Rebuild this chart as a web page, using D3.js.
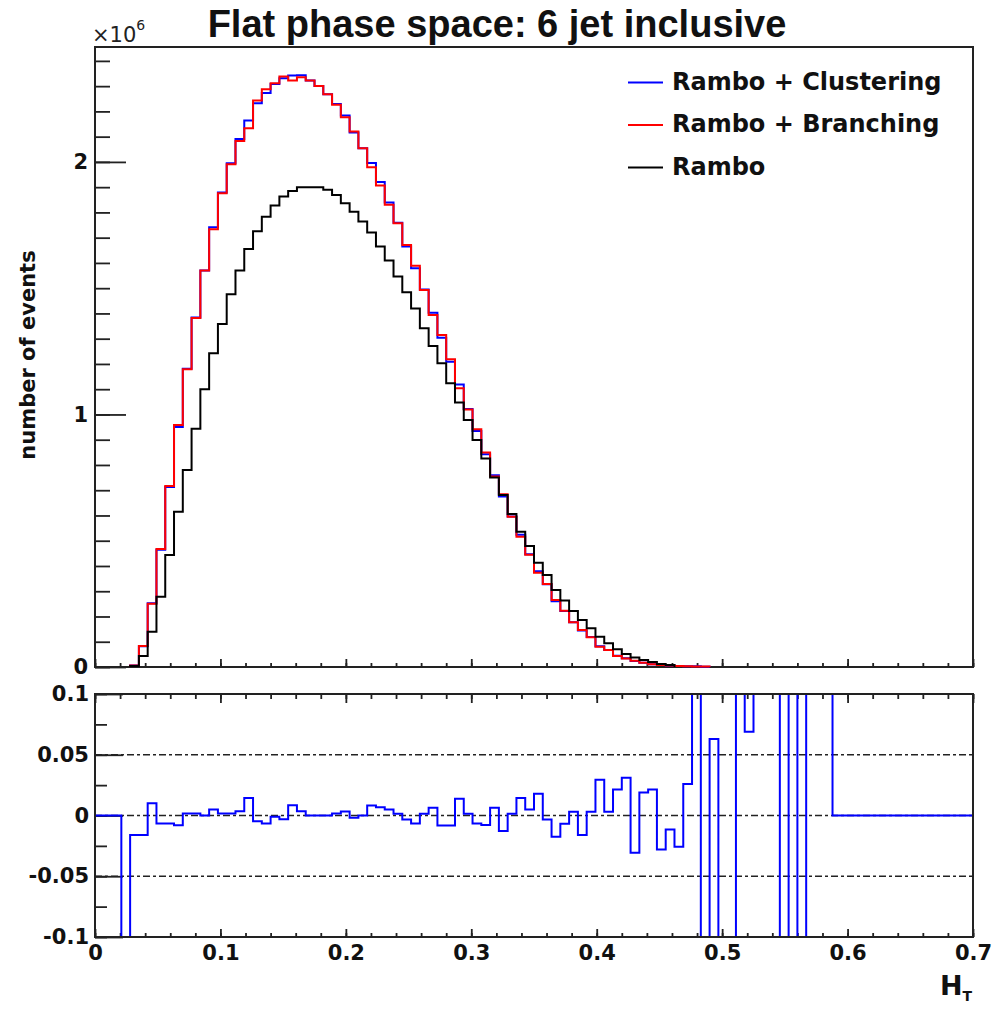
<!DOCTYPE html>
<html>
<head>
<meta charset="utf-8">
<script src="https://cdn.jsdelivr.net/npm/d3@7"></script>
<style>
  body { margin: 0; background: #fff; }
  svg { display: block; }
  .tick text { font-family: "DejaVu Sans", sans-serif; font-weight: bold; fill: #111; }
  .tick line { stroke: #222; stroke-width: 1.8; }
</style>
</head>
<body>
<div id="chart"></div>
<script>
// histogram binning: 100 bins of width 0.007 over H_T in [0, 0.7]
const BIN_WIDTH = 0.007
const N_BINS = 100

const seriesNames = ["Rambo + Clustering", "Rambo + Branching", "Rambo"]
const seriesColors = ["#0000ff", "#ff0000", "#000000"]

// number of events per bin, in units of 10^6
const clustering = [
  0, 0, 0, 0, 0.0059, 0.0817, 0.2525, 0.4639, 0.7123, 0.9503,
  1.1809, 1.3842, 1.57, 1.7417, 1.879, 1.9942, 2.0903, 2.1639, 2.2322, 2.2729,
  2.3087, 2.331, 2.3417, 2.3432, 2.322, 2.301, 2.268, 2.2296, 2.1842, 2.1162,
  2.054, 1.9952, 1.92, 1.8392, 1.7595, 1.6655, 1.5785, 1.4951, 1.4028, 1.3042,
  1.209, 1.1191, 1.0214, 0.9348, 0.8423, 0.7588, 0.6752, 0.5958, 0.5235, 0.4462,
  0.3796, 0.3279, 0.2604, 0.2215, 0.1775, 0.1446, 0.1184, 0.0824, 0.0672, 0.0449,
  0.0351, 0.0242, 0.0173, 0.0112, 0.0078, 0.0059, 0.0039, 0.0031, 0.003, 0.001,
  0, 0, 0, 0, 0, 0, 0, 0, 0, 0,
  0, 0, 0, 0, 0, 0, 0, 0, 0, 0,
  0, 0, 0, 0, 0, 0, 0, 0, 0, 0
]
const branching = [
  0, 0, 0, 0, 0.006, 0.083, 0.25, 0.467, 0.717, 0.958,
  1.179, 1.382, 1.57, 1.733, 1.876, 1.991, 2.083, 2.133, 2.243, 2.288,
  2.311, 2.338, 2.322, 2.335, 2.322, 2.301, 2.268, 2.226, 2.177, 2.12,
  2.054, 1.979, 1.907, 1.83, 1.757, 1.671, 1.589, 1.493, 1.394, 1.315,
  1.219, 1.104, 1.02, 0.941, 0.849, 0.754, 0.684, 0.595, 0.516, 0.444,
  0.373, 0.329, 0.265, 0.223, 0.177, 0.147, 0.118, 0.08, 0.067, 0.044,
  0.034, 0.025, 0.017, 0.011, 0.008, 0.006, 0.004, 0.003, 0.002, 0.0015,
  0, 0, 0, 0, 0, 0, 0, 0, 0, 0,
  0, 0, 0, 0, 0, 0, 0, 0, 0, 0,
  0, 0, 0, 0, 0, 0, 0, 0, 0, 0
]
const rambo = [
  0, 0, 0, 0, 0.004, 0.044, 0.14, 0.278, 0.443, 0.615,
  0.78, 0.943, 1.10, 1.242, 1.358, 1.476, 1.57, 1.655, 1.725, 1.783,
  1.827, 1.863, 1.885, 1.90, 1.90, 1.90, 1.89, 1.869, 1.836, 1.803,
  1.764, 1.72, 1.665, 1.61, 1.546, 1.484, 1.42, 1.341, 1.271, 1.203,
  1.124, 1.047, 0.978, 0.899, 0.826, 0.75, 0.681, 0.606, 0.536, 0.479,
  0.413, 0.364, 0.305, 0.263, 0.222, 0.186, 0.153, 0.12, 0.094, 0.07,
  0.051, 0.038, 0.028, 0.02, 0.012, 0.008, 0, 0, 0, 0,
  0, 0, 0, 0, 0, 0, 0, 0, 0, 0,
  0, 0, 0, 0, 0, 0, 0, 0, 0, 0,
  0, 0, 0, 0, 0, 0, 0, 0, 0, 0
]

// relative difference clustering vs branching (off-scale bins kept as +-1)
const ratio = [
  0, 0, 0, -1, -0.016, -0.016, 0.010, -0.0066, -0.0066, -0.008,
  0.0016, 0.0016, 0, 0.005, 0.0016, 0.0016, 0.0035, 0.0145, -0.0048, -0.0066,
  -0.001, -0.003, 0.0085, 0.0035, 0, 0, 0, 0.0016, 0.0033, -0.0018,
  0, 0.0082, 0.0068, 0.005, 0.0014, -0.0033, -0.0066, 0.0014, 0.0063, -0.0082,
  -0.0082, 0.0137, 0.0014, -0.0066, -0.0079, 0.0063, -0.0128, 0.0014, 0.0145, 0.005,
  0.0178, -0.0033, -0.0175, -0.0068, 0.003, -0.016, 0.003, 0.0295, 0.003, 0.0213,
  0.031, -0.0306, 0.019, 0.0213, -0.0279, -0.0115, -0.0257, 0.026, 1, -1,
  0.063, -1, -1, 1, 0.069, 1, 1, 1, -1, 1,
  -1, 1, 1, 1, 0, 0, 0, 0, 0, 0,
  0, 0, 0, 0, 0, 0, 0, 0, 0, 0
]

const xTickLabels = [0, 0.1, 0.2, 0.3, 0.4, 0.5, 0.6, 0.7]
const yTickLabels = [0, 1, 2]
const ratioTickLabels = [-0.1, -0.05, 0, 0.05, 0.1]
const ratioGuides = [-0.05, 0, 0.05]

const WIDTH = 993, HEIGHT = 1009
const FRAME = { LEFT: 95, RIGHT: 973 }
const MAIN = { TOP: 47, BOTTOM: 667 }
const LOWER = { TOP: 694, BOTTOM: 937 }

const svg = d3.select("#chart")
  .append("svg")
    .attr("width", WIDTH)
    .attr("height", HEIGHT)

const x = d3.scaleLinear()
  .domain([0, 0.7])
  .range([FRAME.LEFT, FRAME.RIGHT])
const y = d3.scaleLinear()
  .domain([0, 2.455])
  .range([MAIN.BOTTOM, MAIN.TOP])
const yR = d3.scaleLinear()
  .domain([-0.1, 0.1])
  .range([LOWER.BOTTOM, LOWER.TOP])

// builds step points for a histogram; trimmed ones start/end at the baseline
function histPoints(values, trim) {
  let first = 0, last = values.length - 1
  if (trim) {
    first = values.findIndex(v => v > 0)
    last = values.length - 1 - values.slice().reverse().findIndex(v => v > 0)
  }
  const pts = []
  if (trim) pts.push([first * BIN_WIDTH, 0])
  for (let i = first; i <= last; i++) pts.push([i * BIN_WIDTH, values[i]])
  pts.push([(last + 1) * BIN_WIDTH, values[last]])
  if (trim) pts.push([(last + 1) * BIN_WIDTH, 0])
  return pts
}

function addAxis(axis, tx, ty) {
  const g = svg.append("g")
    .attr("transform", `translate(${tx}, ${ty})`)
    .call(axis)
  g.select(".domain").remove()
  return g
}

// ---- main panel ----
svg.append("rect")
  .attr("x", FRAME.LEFT).attr("y", MAIN.TOP)
  .attr("width", FRAME.RIGHT - FRAME.LEFT).attr("height", MAIN.BOTTOM - MAIN.TOP)
  .attr("fill", "none").attr("stroke", "#222").attr("stroke-width", 2)

addAxis(d3.axisLeft(y).tickValues(d3.range(0, 2.45, 0.1)).tickSize(-15).tickFormat(""), FRAME.LEFT, 0)
const yAxisG = addAxis(d3.axisLeft(y).tickValues(yTickLabels).tickSize(-31).tickPadding(7).tickFormat(d => d), FRAME.LEFT, 0)
yAxisG.selectAll("text").attr("font-size", 21)

addAxis(d3.axisBottom(x).tickValues(d3.range(0, 0.7001, 0.02)).tickSize(-4).tickFormat(""), 0, MAIN.BOTTOM)
addAxis(d3.axisBottom(x).tickValues(xTickLabels).tickSize(-8).tickFormat(""), 0, MAIN.BOTTOM)

const mainLine = d3.line()
  .x(d => x(d[0]))
  .y(d => y(d[1]))
  .curve(d3.curveStepAfter)

const histograms = [clustering, branching, rambo]
svg.append("g")
  .selectAll("path")
  .data(histograms)
  .enter().append("path")
    .attr("d", d => mainLine(histPoints(d, true)))
    .attr("fill", "none")
    .attr("stroke", (d, i) => seriesColors[i])
    .attr("stroke-width", 2)

// exponent label
const expo = svg.append("text")
  .attr("x", 92).attr("y", 42)
  .attr("font-family", "DejaVu Sans, sans-serif")
  .attr("font-size", 21)
  .attr("fill", "#222")
  .text("\u00d710")
expo.append("tspan")
  .attr("dy", -12)
  .attr("font-size", 14)
  .text("6")

// title
svg.append("text")
  .attr("x", 497).attr("y", 37)
  .attr("text-anchor", "middle")
  .attr("font-family", "Liberation Sans, Arial, sans-serif")
  .attr("font-weight", "bold")
  .attr("font-size", 38)
  .attr("fill", "#111")
  .text("Flat phase space: 6 jet inclusive")

// y axis title
svg.append("text")
  .attr("transform", "translate(35, 355) rotate(-90)")
  .attr("text-anchor", "middle")
  .attr("font-family", "DejaVu Sans, sans-serif")
  .attr("font-weight", "bold")
  .attr("font-size", 21)
  .attr("fill", "#111")
  .text("number of events")

// legend
const legend = svg.append("g")
  .selectAll("g")
  .data(seriesNames)
  .enter().append("g")
    .attr("transform", (d, i) => `translate(628, ${89.5 + i * 42.5})`)
legend.append("line")
  .attr("x1", 0).attr("x2", 35)
  .attr("y1", -7).attr("y2", -7)
  .attr("stroke", (d, i) => seriesColors[i])
  .attr("stroke-width", 2)
legend.append("text")
  .attr("x", 44)
  .attr("font-family", "DejaVu Sans, sans-serif")
  .attr("font-weight", "bold")
  .attr("font-size", 24)
  .attr("fill", "#111")
  .text(d => d)

// ---- ratio panel ----
svg.append("defs").append("clipPath")
  .attr("id", "ratio-clip")
  .append("rect")
    .attr("x", FRAME.LEFT).attr("y", LOWER.TOP)
    .attr("width", FRAME.RIGHT - FRAME.LEFT).attr("height", LOWER.BOTTOM - LOWER.TOP)

svg.append("g")
  .selectAll("line")
  .data(ratioGuides)
  .enter().append("line")
    .attr("x1", FRAME.LEFT).attr("x2", FRAME.RIGHT)
    .attr("y1", d => yR(d)).attr("y2", d => yR(d))
    .attr("stroke", "#222")
    .attr("stroke-width", 1.6)
    .attr("stroke-dasharray", "7,3,3,3")

addAxis(d3.axisLeft(yR).tickValues(d3.range(-0.1, 0.1001, 0.025)).tickSize(-12).tickFormat(""), FRAME.LEFT, 0)
const rAxisG = addAxis(d3.axisLeft(yR).tickValues(ratioTickLabels).tickSize(-28).tickPadding(6).tickFormat(d => String(d)), FRAME.LEFT, 0)
rAxisG.selectAll("text").attr("font-size", 21)

addAxis(d3.axisBottom(x).tickValues(d3.range(0, 0.7001, 0.02)).tickSize(-4).tickFormat(""), 0, LOWER.BOTTOM)
const xAxisG = addAxis(d3.axisBottom(x).tickValues(xTickLabels).tickSize(-8).tickPadding(8).tickFormat(d => String(d)), 0, LOWER.BOTTOM)
xAxisG.selectAll("text").attr("font-size", 21)
addAxis(d3.axisTop(x).tickValues(d3.range(0, 0.7001, 0.02)).tickSize(-5).tickFormat(""), 0, LOWER.TOP)
addAxis(d3.axisTop(x).tickValues(xTickLabels).tickSize(-9).tickFormat(""), 0, LOWER.TOP)

const ratioLine = d3.line()
  .x(d => x(d[0]))
  .y(d => yR(d[1]))
  .curve(d3.curveStepAfter)

svg.append("path")
  .attr("clip-path", "url(#ratio-clip)")
  .attr("d", ratioLine(histPoints(ratio, false)))
  .attr("fill", "none")
  .attr("stroke", seriesColors[0])
  .attr("stroke-width", 2)

svg.append("rect")
  .attr("x", FRAME.LEFT).attr("y", LOWER.TOP)
  .attr("width", FRAME.RIGHT - FRAME.LEFT).attr("height", LOWER.BOTTOM - LOWER.TOP)
  .attr("fill", "none").attr("stroke", "#222").attr("stroke-width", 2)

// x axis title
const xTitle = svg.append("text")
  .attr("x", 940).attr("y", 995)
  .attr("font-family", "DejaVu Sans, sans-serif")
  .attr("font-weight", "bold")
  .attr("font-size", 27)
  .attr("fill", "#111")
  .text("H")
xTitle.append("tspan")
  .attr("dy", 6)
  .attr("font-size", 14)
  .text("T")
</script>
</body>
</html>
